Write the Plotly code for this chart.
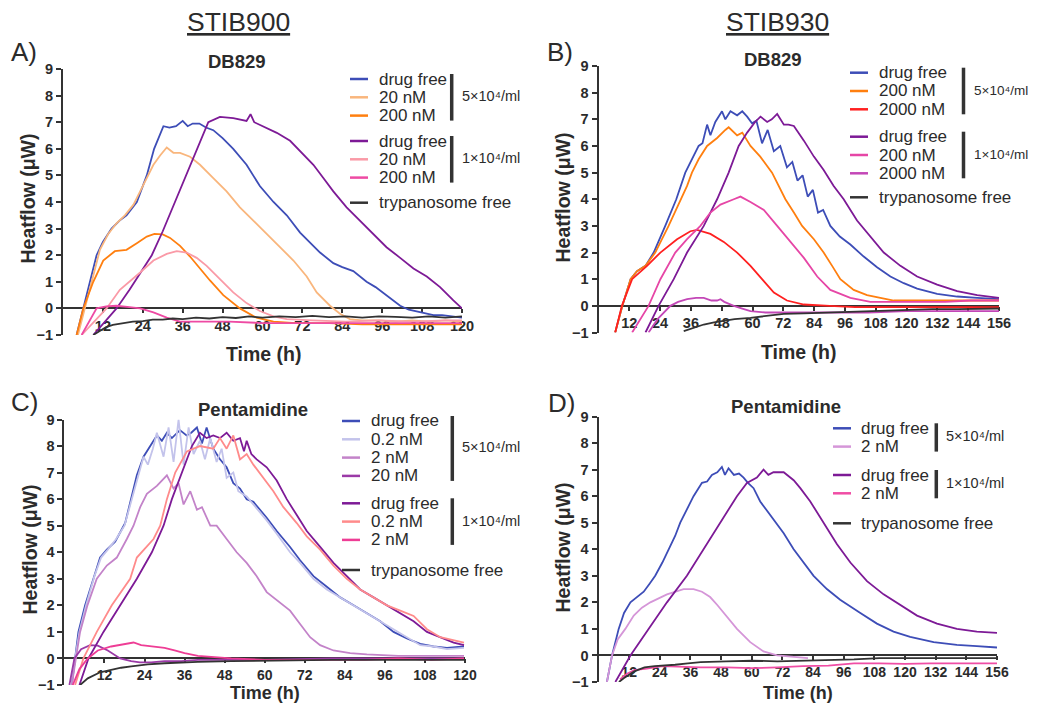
import plotly.graph_objects as go

# page body keeps an 8px margin, so the figure is sized to sit inside the window
OFF = 8
W, H = 1037 - 2 * OFF, 712 - 2 * OFF
FONT = "Liberation Sans, Arial, Helvetica, sans-serif"
TXT = "#2b2b2b"

BLUE = "#3d4db7"
LIGHT_ORANGE = "#f9b67d"
ORANGE = "#ff7f0f"
PURPLE = "#7d1a96"
LIGHT_PINK = "#fa9aa7"
MAGENTA = "#ee4aa3"
BLACK = "#333333"
RED = "#ff2020"
B_MAGENTA = "#e646a6"
B_VIOLET = "#c347b7"
LAVENDER = "#c3c3eb"
C_VIOLET = "#c383c9"
C_PURPLE = "#9b3aa7"
SALMON = "#ff8b8b"
C_MAGENTA = "#ee3d95"
D_VIOLET = "#d596d8"
D_MAGENTA = "#f04da5"

# ---------------- A) STIB900 / DB829 ----------------
a_t_df5 = [4.1, 6.1, 8.1, 10.1, 12, 14.6, 17, 19.1, 22.2, 25.2, 27.4, 30.2, 32, 34, 36, 37.5, 39, 41, 43, 45.2,
           48, 51.2, 55.2, 59.2, 63.3, 67.3, 71.3, 74, 77.3, 81.3, 84, 87.3, 91.3, 94, 97.3, 101.4, 104, 107.4,
           111.4, 114, 117.4, 120]
a_v_df5 = [-1, 0, 1, 2, 2.5, 3.0, 3.3, 3.5, 4.0, 5.0, 6.0, 6.85, 6.8, 6.85, 7.05, 6.85, 6.95, 6.95, 6.8, 6.7,
           6.4, 6.0, 5.4, 4.6, 4.0, 3.5, 2.85, 2.5, 2.1, 1.7, 1.55, 1.4, 1.0, 0.8, 0.5, 0.1, -0.05, -0.15,
           -0.25, -0.25, -0.3, -0.35]
a_t_20_5 = [4.5, 6.5, 9, 11.1, 13.6, 16.1, 18.6, 21.2, 23.2, 25.2, 27.2, 29.2, 31.2, 33.2, 35.2, 38.2, 41.2, 45.2,
            49.2, 53.2, 57.2, 61.3, 65.3, 69.3, 73.3, 76.3, 80.3, 83.3, 86.3, 90, 95, 100, 105, 110, 115, 120]
a_v_20_5 = [-1, 0, 1.2, 2.2, 2.8, 3.2, 3.5, 3.9, 4.4, 4.9, 5.4, 5.75, 6.05, 5.85, 5.85, 5.7, 5.4, 4.9,
            4.4, 3.8, 3.3, 2.8, 2.3, 1.8, 1.2, 0.6, 0.1, -0.2, -0.4, -0.45, -0.45, -0.5, -0.45, -0.5, -0.45, -0.5]
a_t_200_5 = [4.1, 6.1, 9.1, 12.1, 15.6, 19.1, 22.2, 25.2, 27.5, 30, 32.2, 35.2, 38.2, 41.2, 44.2, 48.2, 53.2,
             58.2, 63.3, 70, 80, 90, 100, 110, 120]
a_v_200_5 = [-1, 0, 1.0, 1.8, 2.15, 2.2, 2.45, 2.7, 2.8, 2.78, 2.65, 2.35, 1.95, 1.5, 1.05, 0.5, 0.0,
             -0.35, -0.5, -0.55, -0.55, -0.6, -0.6, -0.6, -0.6]
a_t_df1 = [9.1, 12, 16.1, 20, 23, 26.7, 30, 33.7, 37, 40.2, 43.7, 47.2, 51.2, 55.2, 56.4, 57.5, 59.2, 61.3, 64.3,
           68.3, 71.3, 75.3, 78.3, 81.3, 85.3, 89.4, 93.3, 97.3, 101.4, 105.4, 109.4, 113.4, 117.4, 120]
a_v_df1 = [-1, -0.6, 0, 0.7, 1.3, 2.0, 2.9, 4.0, 5.0, 6.0, 7.0, 7.2, 7.15, 7.05, 7.3, 7.0, 6.9, 6.8, 6.6,
           6.3, 5.9, 5.4, 4.9, 4.4, 3.8, 3.3, 2.8, 2.3, 1.9, 1.5, 1.2, 0.8, 0.3, 0.0]
a_t_20_1 = [5.6, 10, 13.1, 17.1, 20, 23.2, 27.2, 31.2, 34.2, 37.2, 40.2, 43.2, 47.2, 51.2, 55.2, 59.2, 63.3,
            67.3, 75, 85, 95, 105, 115, 120]
a_v_20_1 = [-1, -0.4, 0, 0.7, 1.0, 1.35, 1.8, 2.05, 2.15, 2.1, 1.9, 1.6, 1.1, 0.6, 0.2, -0.1, -0.3,
            -0.4, -0.45, -0.5, -0.45, -0.5, -0.45, -0.45]
a_t_200_1 = [5.6, 8, 10.1, 13, 16, 20, 23.2, 27.2, 31.2, 35.2, 41.2, 50, 60, 70, 80, 90, 100, 110, 120]
a_v_200_1 = [-1, -0.45, 0, 0.08, 0.1, 0.05, 0.0, -0.15, -0.35, -0.5, -0.5, -0.5, -0.55, -0.55, -0.55, -0.55,
             -0.55, -0.55, -0.55]
a_t_free = [9.1, 11, 13, 15, 18, 21, 24, 27, 30, 33, 36, 40, 44, 48, 52, 56, 60, 65, 70, 75, 80, 85, 90, 95,
            100, 105, 110, 115, 120]
a_v_free = [-1, -0.85, -0.7, -0.62, -0.55, -0.5, -0.48, -0.42, -0.42, -0.38, -0.4, -0.35, -0.38, -0.33, -0.36,
            -0.3, -0.35, -0.3, -0.33, -0.28, -0.33, -0.3, -0.35, -0.3, -0.32, -0.35, -0.3, -0.35, -0.3]

# ---------------- B) STIB930 / DB829 ----------------
b_t_df5 = [6.5, 9.3, 12.5, 15, 18.3, 21.5, 26, 30.3, 33.8, 36.5, 39, 40.5, 42.3, 43.6, 45.5, 48.1, 49.4, 51.4,
           54, 56, 57.9, 59.8, 61.5, 63.7, 65.9, 68.3, 70.8, 73.4, 75.5, 77.5, 79.5, 81.5, 83.5, 85.5, 87.5,
           90.3, 94, 98.1, 103.3, 108.5, 113.7, 118.9, 124.1, 131.9, 139.7, 147.5, 156]
b_v_df5 = [-1, 0, 1.0, 1.3, 1.5, 2.0, 3.0, 4.0, 5.0, 5.5, 6.0, 6.1, 6.8, 6.4, 6.9, 7.3, 7.0, 7.3,
           7.15, 7.3, 7.1, 6.85, 6.95, 6.1, 6.6, 5.8, 6.0, 5.2, 5.4, 4.7, 4.9, 4.1, 4.35, 3.5, 3.6,
           3.0, 2.6, 2.3, 1.85, 1.45, 1.1, 0.85, 0.65, 0.45, 0.35, 0.3, 0.25]
b_t_200_5 = [6.5, 9.3, 12.5, 15, 18.3, 22.1, 27.3, 31.9, 34.5, 36.4, 39, 42.3, 46.2, 49.4, 50.7, 54, 56, 59.2,
             63, 67.6, 70.2, 72.8, 76.1, 79.3, 83.9, 87.7, 91, 94.2, 99.4, 104.6, 109.8, 115, 125, 135, 145, 156]
b_v_200_5 = [-1, 0, 1.0, 1.3, 1.5, 2.0, 3.0, 4.0, 4.5, 5.0, 5.5, 6.0, 6.3, 6.6, 6.7, 6.4, 6.5, 6.0,
             5.6, 5.0, 4.5, 4.0, 3.5, 3.0, 2.5, 2.0, 1.5, 1.0, 0.6, 0.4, 0.3, 0.2, 0.2, 0.2, 0.2, 0.2]
b_t_2000_5 = [6.5, 9.1, 13.1, 18.9, 24.1, 30.6, 35.8, 38.4, 43.6, 48.8, 54, 59.2, 63.7, 68.3, 73.4, 80, 90, 100,
              120, 140, 156]
b_v_2000_5 = [-1, 0, 1.0, 1.5, 2.0, 2.5, 2.8, 2.85, 2.7, 2.4, 2.0, 1.5, 1.0, 0.5, 0.2, 0.05, 0.0, -0.05,
              -0.05, -0.05, -0.05]
b_t_df1 = [18.3, 23.4, 29.3, 34.5, 41, 46.2, 50.7, 54.6, 57.9, 61, 63.1, 65.7, 67.5, 69.6, 72.2, 74, 76.1, 78,
           80, 83.9, 87.7, 91.6, 95.5, 100.7, 105.9, 111.1, 117.6, 124.1, 131.9, 139.7, 147.5, 156]
b_v_df1 = [-1, 0, 1.0, 2.0, 3.0, 4.0, 5.0, 6.0, 6.5, 6.9, 7.1, 6.9, 7.0, 7.2, 6.8, 6.8, 6.75, 6.5,
           6.2, 5.6, 5.1, 4.5, 4.0, 3.2, 2.6, 2.0, 1.5, 1.1, 0.8, 0.55, 0.4, 0.3]
b_t_200_1 = [13.1, 19.5, 24.1, 29.9, 34.5, 39.7, 43.6, 47.5, 52.7, 55.3, 59.2, 64.4, 69.6, 74.8, 80, 85.2, 90.3,
             98.1, 105.9, 115, 125, 135, 145, 156]
b_v_200_1 = [-1, 0, 1.0, 2.0, 2.5, 3.0, 3.5, 3.8, 4.0, 4.1, 3.9, 3.6, 3.0, 2.4, 1.8, 1.1, 0.6,
             0.3, 0.15, 0.15, 0.15, 0.15, 0.2, 0.2]
b_t_2000_1 = [19.5, 23, 28, 31, 34.5, 38, 41, 44, 46.2, 47.5, 49, 52.7, 56, 59.2, 65, 75, 90, 105, 120, 140, 156]
b_v_2000_1 = [-1, -0.5, 0, 0.15, 0.25, 0.3, 0.3, 0.2, 0.2, 0.25, 0.15, 0.0, -0.1, -0.2, -0.25, -0.25, -0.25,
              -0.25, -0.2, -0.2, -0.2]
b_t_free = [33.2, 37, 41, 45, 48.8, 53, 59.2, 65, 72.2, 80, 90, 100, 110, 120, 130, 140, 150, 156]
b_v_free = [-0.95, -0.82, -0.7, -0.62, -0.55, -0.5, -0.45, -0.38, -0.3, -0.28, -0.25, -0.2, -0.18, -0.15,
            -0.12, -0.12, -0.1, -0.1]

# ---------------- C) STIB900 / Pentamidine ----------------
c_t_df5 = [2.2, 3.2, 4.2, 6.2, 8.7, 10.7, 12.7, 15.2, 18.2, 20.2, 21.7, 23.7, 25.7, 27.7, 29.2, 30.7, 32.2, 34.6,
           36.6, 38, 39.7, 41.2, 42.6, 44.6, 46.6, 48.6, 50.6, 52.6, 54.6, 56.6, 58.6, 60.6, 63.6, 67.6, 70.6,
           74.6, 78.6, 82.6, 86.6, 90.6, 94.6, 98.6, 102.6, 106.6, 110.6, 114.6, 119.7]
c_v_df5 = [-1, 0, 1, 2, 3, 3.8, 4.1, 4.4, 5.1, 6.1, 6.9, 7.6, 8.0, 8.4, 8.2, 8.5, 8.3, 8.6,
           8.4, 8.5, 8.7, 8.1, 8.7, 7.9, 7.5, 7.2, 6.6, 6.4, 6.0, 5.9, 5.6, 5.3, 4.8, 4.2, 3.7,
           3.1, 2.7, 2.3, 2.0, 1.7, 1.4, 1.0, 0.75, 0.55, 0.45, 0.4, 0.45]
c_t_02_5 = [2.2, 3.2, 4.5, 6.5, 9, 11, 13, 15.5, 18, 20, 22, 23.7, 25, 26.5, 27.7, 29.7, 31.2, 32.7, 34.2, 35.7,
            37.2, 38.7, 40.6, 42.1, 43.7, 45.6, 47.1, 48.6, 50.6, 52.1, 54.6, 56.6, 58.6, 60.6, 63.6, 67.6,
            70.6, 74.6, 78.6, 82.6, 86.6, 90.6, 94.6, 98.6, 102.6, 106.6, 110.6, 114.6, 119.7]
c_v_02_5 = [-1, 0, 1, 2, 3.1, 3.8, 4.1, 4.5, 5.0, 5.9, 6.8, 7.6, 7.3, 7.9, 8.5, 7.6, 8.7, 7.4, 9.0, 7.3,
            8.7, 7.7, 8.2, 7.5, 8.3, 7.4, 7.9, 6.8, 7.0, 6.3, 6.1, 5.8, 5.5, 5.2, 4.7, 4.0,
            3.6, 3.0, 2.6, 2.3, 2.0, 1.7, 1.4, 1.1, 0.8, 0.5, 0.45, 0.35, 0.4]
c_t_2_5 = [2.2, 3.4, 4.7, 6.9, 9.7, 12.7, 15.7, 18.7, 20.7, 22.7, 24.7, 27.7, 30.7, 32.7, 34.2, 35.7, 37.7, 39.7,
           41.2, 43.7, 45.6, 48.6, 51.6, 54.6, 57.6, 60.6, 63.6, 67.6, 70.6, 73.6, 76.6, 80.6, 85.6, 90.6,
           100, 110, 119.7]
c_v_2_5 = [-1, 0, 1, 2, 3, 3.5, 3.8, 4.5, 5.0, 5.7, 6.2, 6.5, 6.9, 6.4, 6.6, 5.8, 6.3, 5.6,
           5.7, 5.0, 5.0, 4.5, 4.0, 3.6, 3.1, 2.5, 2.2, 1.8, 1.3, 0.8, 0.5, 0.3, 0.2, 0.15, 0.1, 0.1, 0.1]
c_t_20_5 = [1.5, 3, 5, 7.7, 10, 13, 16.7, 20, 22.6, 26, 30, 35, 40, 50, 60, 80, 100, 119.7]
c_v_20_5 = [-1, 0, 0.35, 0.5, 0.48, 0.3, 0.0, -0.1, -0.15, -0.15, -0.1, -0.1, -0.05, -0.05, -0.05, 0.0, 0.0, 0.0]
c_t_df1 = [4.5, 7.2, 11.7, 16.7, 21.7, 26.2, 29.7, 32.2, 35.2, 38.2, 40.6, 42.6, 44.6, 46.6, 48.6, 50.6, 52.6,
           53.8, 54.6, 56, 57.6, 60.6, 63.6, 66.6, 69.6, 72.6, 76.6, 80.6, 84.6, 88.6, 92.6, 96.6, 100.6, 104.6,
           108.6, 112.6, 116.6, 119.7]
c_v_df1 = [-1, 0, 1, 2, 3, 4, 5, 6, 7, 8, 8.5, 8.3, 8.4, 8.3, 8.5, 8.2, 8.3,
           7.8, 8.2, 7.7, 7.5, 7.2, 6.7, 6.0, 5.4, 4.8, 4.2, 3.6, 3.1, 2.6, 2.3, 2.0, 1.7, 1.4,
           1.0, 0.8, 0.6, 0.5]
c_t_02_1 = [3.2, 5.7, 9.7, 14.2, 19.7, 21.7, 26.7, 28.7, 30.7, 33.2, 36.7, 40.6, 44.6, 46.6, 48.6, 50.6, 52.6,
            54.6, 56.6, 59.6, 62.6, 65.6, 69.6, 72.6, 76.6, 80.6, 84.6, 88.6, 92.6, 96.6, 100.6, 104.6, 108.6,
            112.6, 119.7]
c_v_02_1 = [-1, 0, 1, 2, 3, 3.8, 4.5, 5.0, 6.0, 7.0, 7.8, 8.0, 7.9, 8.3, 7.9, 8.4, 7.5,
            7.7, 7.3, 6.8, 6.3, 5.7, 5.1, 4.6, 4.1, 3.5, 3.0, 2.6, 2.3, 2.0, 1.8, 1.6, 1.1,
            0.8, 0.6]
c_t_2_1 = [2.5, 4.5, 7, 10, 14, 18, 20.7, 23, 26, 30, 33, 36, 40, 45, 50, 60, 70, 80, 90, 100, 110, 119.7]
c_v_2_1 = [-1, -0.4, 0.0, 0.3, 0.45, 0.55, 0.6, 0.5, 0.45, 0.4, 0.3, 0.2, 0.1, 0.05, 0.0, -0.05, -0.05, -0.05,
           -0.05, 0.0, -0.05, 0.0]
c_t_free = [4.7, 7, 10.7, 14, 17, 20, 25, 30, 35, 40, 50, 60, 70, 80, 90, 100, 110, 119.7]
c_v_free = [-1, -0.75, -0.52, -0.42, -0.35, -0.3, -0.22, -0.18, -0.15, -0.13, -0.1, -0.08, -0.06, -0.05, -0.05,
            -0.05, -0.05, -0.05]

# ---------------- D) STIB930 / Pentamidine ----------------
d_t_df5 = [3.3, 5.3, 7.9, 10, 12.5, 15.1, 17.7, 20, 22.2, 25, 27.5, 30, 32, 34.6, 37.2, 40.5, 42.5, 44.4, 46.5,
           48.3, 49.5, 50.9, 53, 55, 56.8, 58.5, 60.7, 63.3, 67.2, 72.5, 76.4, 80.3, 84.2, 89.4, 94.6, 102.5,
           109, 115.5, 122, 131.2, 140.3, 148.1, 156]
d_v_df5 = [-1, 0, 1, 1.6, 2.0, 2.2, 2.4, 2.7, 3.0, 3.5, 4.0, 4.5, 5.0, 5.5, 6.0, 6.5, 6.55, 6.8, 6.9,
           7.1, 6.8, 7.05, 6.8, 6.85, 6.7, 6.5, 6.3, 5.8, 5.3, 4.6, 4.0, 3.5, 3.0, 2.5, 2.1, 1.6,
           1.2, 0.9, 0.7, 0.5, 0.4, 0.35, 0.3]
d_t_2_5 = [3.3, 5.3, 7.5, 10.5, 13.8, 17, 20.3, 26.8, 33.3, 37.2, 40.5, 43.7, 46.5, 49, 51.5, 54.2, 59.4, 64.6,
           69.9, 75, 82]
d_v_2_5 = [-1, 0, 0.6, 1.0, 1.5, 1.8, 2.0, 2.3, 2.5, 2.5, 2.4, 2.2, 1.9, 1.6, 1.3, 1.0, 0.5, 0.15,
           0.0, -0.05, -0.1]
d_t_df1 = [6.6, 12.5, 19.6, 26.8, 34.6, 41.2, 47.7, 54.2, 58.1, 62, 64.6, 66.5, 68.5, 72.5, 76.4, 79, 82.9, 88.1,
           93.3, 98.6, 105.1, 111.6, 118.1, 124.7, 132.5, 140.3, 148.1, 156]
d_v_df1 = [-1, 0, 1, 2, 3, 4, 5, 6, 6.5, 6.7, 7.0, 6.8, 6.9, 6.9, 6.6, 6.3, 5.8, 5.0,
           4.2, 3.5, 2.8, 2.3, 1.9, 1.5, 1.2, 1.0, 0.9, 0.85]
d_t_2_1 = [8.4, 11, 14, 18.9, 25, 30, 40, 50, 60, 70, 80, 90, 100, 110, 120, 130, 140, 150, 156]
d_v_2_1 = [-0.9, -0.7, -0.55, -0.5, -0.4, -0.42, -0.45, -0.45, -0.48, -0.45, -0.4, -0.38, -0.3, -0.3, -0.32,
           -0.3, -0.3, -0.28, -0.3]
d_t_free = [8, 10, 14, 18, 22, 26, 30, 35, 40, 50, 60, 70, 80, 90, 100, 110, 120, 130, 140, 150, 156]
d_v_free = [-1, -0.85, -0.6, -0.45, -0.4, -0.38, -0.35, -0.3, -0.25, -0.22, -0.2, -0.22, -0.2, -0.18, -0.15,
            -0.1, -0.1, -0.1, -0.08, -0.08, -0.1]

panels = [
    dict(letter="A)", strain="STIB900", drug="DB829", xmax=120, box=(63, 462, 69, 335), tick=14.5,
         series=[("drug free", BLUE, a_t_df5, a_v_df5, 5), ("20 nM", LIGHT_ORANGE, a_t_20_5, a_v_20_5, 5),
                 ("200 nM", ORANGE, a_t_200_5, a_v_200_5, 5), ("drug free", PURPLE, a_t_df1, a_v_df1, 1),
                 ("20 nM", LIGHT_PINK, a_t_20_1, a_v_20_1, 1), ("200 nM", MAGENTA, a_t_200_1, a_v_200_1, 1),
                 ("trypanosome free", BLACK, a_t_free, a_v_free, 0)],
         leg=dict(sx=350, tx=377, bx=451.7, y5=79, y1=141, y0=202.7, gs=14.5),
         letter_xy=(24, 52), strain_xy=(238, 22), drug_xy=(237, 62), ytitle_xy=(27.5, 199),
         xtitle_xy=(263, 354), xtitle_size=19.5),
    dict(letter="B)", strain="STIB930", drug="DB829", xmax=156, box=(598.5, 999, 66, 332.5), tick=14.5,
         series=[("drug free", BLUE, b_t_df5, b_v_df5, 5), ("200 nM", ORANGE, b_t_200_5, b_v_200_5, 5),
                 ("2000 nM", RED, b_t_2000_5, b_v_2000_5, 5), ("drug free", PURPLE, b_t_df1, b_v_df1, 1),
                 ("200 nM", B_MAGENTA, b_t_200_1, b_v_200_1, 1), ("2000 nM", B_VIOLET, b_t_2000_1, b_v_2000_1, 1),
                 ("trypanosome free", BLACK, b_t_free, b_v_free, 0)],
         leg=dict(sx=850, tx=877, bx=963.5, y5=72.7, y1=136.7, y0=197.3, gs=13.5),
         letter_xy=(560, 52), strain_xy=(777, 22), drug_xy=(773, 60), ytitle_xy=(562.5, 198),
         xtitle_xy=(798, 352), xtitle_size=19.5),
    dict(letter="C)", strain=None, drug="Pentamidine", xmax=120, box=(64.4, 465, 419.5, 685), tick=14,
         series=[("drug free", BLUE, c_t_df5, c_v_df5, 5), ("0.2 nM", LAVENDER, c_t_02_5, c_v_02_5, 5),
                 ("2 nM", C_VIOLET, c_t_2_5, c_v_2_5, 5), ("20 nM", C_PURPLE, c_t_20_5, c_v_20_5, 5),
                 ("drug free", PURPLE, c_t_df1, c_v_df1, 1), ("0.2 nM", SALMON, c_t_02_1, c_v_02_1, 1),
                 ("2 nM", C_MAGENTA, c_t_2_1, c_v_2_1, 1), ("trypanosome free", BLACK, c_t_free, c_v_free, 0)],
         leg=dict(sx=342, tx=369, bx=452.3, y5=421, y1=503.3, y0=570, gs=14.5),
         letter_xy=(24, 402), strain_xy=None, drug_xy=(253, 409), ytitle_xy=(29.5, 550),
         xtitle_xy=(264.5, 693), xtitle_size=18),
    dict(letter="D)", strain=None, drug="Pentamidine", xmax=156, box=(598.5, 997, 416.5, 682), tick=14,
         series=[("drug free", BLUE, d_t_df5, d_v_df5, 5), ("2 nM", D_VIOLET, d_t_2_5, d_v_2_5, 5),
                 ("drug free", PURPLE, d_t_df1, d_v_df1, 1), ("2 nM", D_MAGENTA, d_t_2_1, d_v_2_1, 1),
                 ("trypanosome free", BLACK, d_t_free, d_v_free, 0)],
         leg=dict(sx=833, tx=858.7, bx=936.3, y5=428.3, y1=475, y0=523.3, gs=14.5),
         letter_xy=(561, 403), strain_xy=None, drug_xy=(786, 406), ytitle_xy=(562.5, 548),
         xtitle_xy=(797.5, 693), xtitle_size=18),
]


def px(x):
    return (x - OFF) / W


def py(y):
    return 1 - (y - OFF) / H


def note(x, y, text, size, bold=False, anchor="center", **kw):
    font = dict(family=FONT, size=size, color=TXT)
    if bold:
        font["weight"] = "bold"
    font.update(kw.pop("font_extra", {}))
    return dict(x=px(x), y=py(y), xref="paper", yref="paper", text=text, showarrow=False,
                xanchor=anchor, yanchor="middle", font=font, **kw)


fig = go.Figure()
layout = dict(width=W, height=H, margin=dict(l=0, r=0, t=0, b=0, autoexpand=False), showlegend=False,
              paper_bgcolor="white", plot_bgcolor="white",
              font=dict(family=FONT, color=TXT))
shapes, annotations = [], []
ROW = 18.3

for i, p in enumerate(panels):
    n = "" if i == 0 else str(i + 1)
    x0, x1, ytop, ybot = p["box"]
    zero_pos = py(ybot - (ybot - ytop) / 10)
    layout["xaxis" + n] = dict(
        domain=[px(x0), px(x1)], range=[0, p["xmax"]], anchor="free", position=zero_pos,
        tickvals=list(range(12, p["xmax"] + 1, 12)), ticks="outside", ticklen=4, tickwidth=2,
        showline=True, linewidth=2, linecolor="#333333", tickcolor="#333333", showgrid=False,
        zeroline=False, layer="below traces",
        tickfont=dict(family=FONT, size=p["tick"], color=TXT, weight="bold"))
    layout["yaxis" + n] = dict(
        domain=[py(ybot), py(ytop)], range=[-1, 9], anchor="x" + n, tickvals=list(range(-1, 10)),
        ticks="outside", ticklen=5, tickwidth=2, showline=True, linewidth=2, linecolor="#333333",
        tickcolor="#333333", showgrid=False, zeroline=False, layer="below traces",
        tickfont=dict(family=FONT, size=14.5, color=TXT, weight="bold"))

    for name, color, t, v, grp in p["series"]:
        fig.add_trace(go.Scatter(x=t, y=v, mode="lines", name=name, xaxis="x" + n, yaxis="y" + n,
                                 line=dict(color=color, width=1.8)))

    # legend drawn by hand: sample line + label, grouped with a bar and density text
    lg = p["leg"]
    counts = {5: 0, 1: 0, 0: 0}
    for name, color, t, v, grp in p["series"]:
        yy = lg["y%d" % grp] + counts[grp] * ROW
        counts[grp] += 1
        shapes.append(dict(type="line", xref="paper", yref="paper", x0=px(lg["sx"]), x1=px(lg["sx"] + 18),
                           y0=py(yy), y1=py(yy), line=dict(color=color, width=2.5)))
        annotations.append(note(lg["tx"], yy, name, 17, anchor="left"))
    for grp, label in [(5, "5×10⁴/ml"), (1, "1×10⁴/ml")]:
        ya = lg["y%d" % grp] - 5
        yb = lg["y%d" % grp] + (counts[grp] - 1) * ROW + 5
        shapes.append(dict(type="line", xref="paper", yref="paper", x0=px(lg["bx"]), x1=px(lg["bx"]),
                           y0=py(ya), y1=py(yb), line=dict(color="#333333", width=3.5)))
        annotations.append(note(lg["bx"] + 8, (ya + yb) / 2 - 1, label, lg["gs"], anchor="left"))

    annotations.append(note(*p["letter_xy"], p["letter"], 26))
    if p["strain"]:
        annotations.append(note(*p["strain_xy"], p["strain"], 26.5, font_extra=dict(lineposition="under")))
    annotations.append(note(*p["drug_xy"], p["drug"], 18.5, bold=True))
    annotations.append(note(*p["ytitle_xy"], "Heatflow (μW)", 19.5, bold=True, textangle=-90))
    annotations.append(note(*p["xtitle_xy"], "Time (h)", p["xtitle_size"], bold=True))

layout["shapes"] = shapes
layout["annotations"] = annotations
fig.update_layout(**layout)
fig.write_html("out.html")
